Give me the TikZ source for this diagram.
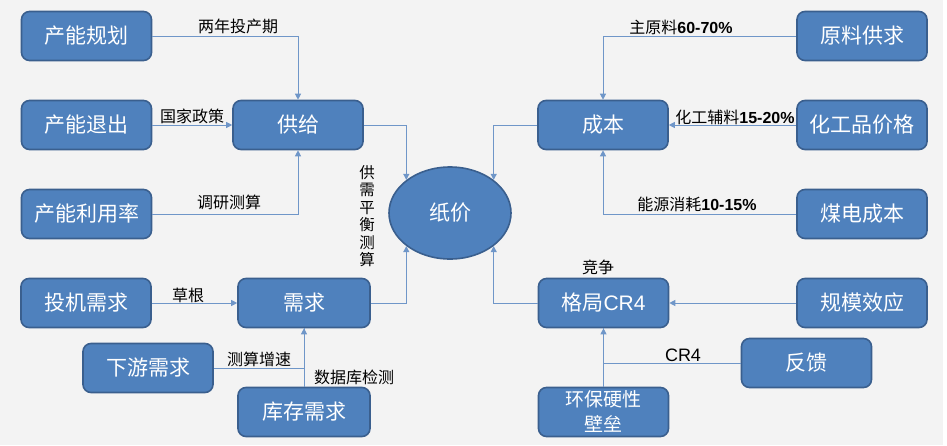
\documentclass[tikz,border=0pt]{standalone}
\usepackage{fontspec}
\setmainfont{Liberation Sans}
\newfontfamily\cjk{Noto Sans CJK SC}
\newfontfamily\latn{Liberation Sans}
\usetikzlibrary{arrows.meta,shapes.geometric}
\definecolor{boxfill}{HTML}{4F81BD}
\definecolor{boxline}{HTML}{3A5F8E}
\definecolor{linec}{HTML}{6F96C8}
\definecolor{bg}{HTML}{F3F3F3}
\begin{document}
\begin{tikzpicture}[x=1pt,y=-1pt,
 box/.style={draw=boxline, line width=1.6pt, fill=boxfill, rounded corners=8pt,
   minimum width=130pt, minimum height=49pt, inner sep=0pt, text=white,
   font=\cjk\fontsize{21}{24}\selectfont, align=center},
 conn/.style={draw=linec, line width=1pt, -{Triangle[width=6pt,length=6pt]}},
 plainline/.style={draw=linec, line width=1pt},
 lbl/.style={font=\cjk\fontsize{16}{17}\selectfont, text=black, inner sep=0pt, align=center}]
\fill[bg] (0,0) rectangle (947,445);
\fill[white] (943,0) rectangle (947,445);
\useasboundingbox (0,0) rectangle (947,445);

% boxes
\node[box] (gh) at (86.5,36) {产能规划};
\node[box] (tc) at (86.5,125) {产能退出};
\node[box] (ly) at (86.5,214) {产能利用率};
\node[box] (gj) at (298,125) {供给};
\node[box] (cb) at (603,125) {成本};
\node[box] (yl) at (862,36) {原料供求};
\node[box] (hg) at (862,125) {化工品价格};
\node[box] (md) at (862,214) {煤电成本};
\node[box] (tj) at (86,303) {投机需求};
\node[box, minimum width=132pt] (xq) at (304,303) {需求};
\node[box] (xy) at (148,368) {下游需求};
\node[box, minimum width=132pt] (kc) at (304,412) {库存需求};
\node[box] (gjcr) at (603.5,303) {格局{\latn CR4}};
\node[box] (gm) at (862,303) {规模效应};
\node[box] (fk) at (806.5,363) {反馈};
\node[box, font=\cjk\fontsize{19}{25}\selectfont] (hb) at (603.5,412) {环保硬性\\壁垒};

% central ellipse
\node[ellipse, draw=boxline, line width=1.6pt, fill=boxfill, inner sep=0pt,
  minimum width=122pt, minimum height=92pt, text=white,
  font=\cjk\fontsize{21}{24}\selectfont] (zj) at (450,213) {纸价};

% connectors
\draw[conn] (gh.east) -| (gj.north);
\draw[conn] (tc) -- (gj);
\draw[conn] (ly.east) -| (gj.south);
\draw[conn] (gj.east) -| (zj.north west);
\draw[conn] (xq.east) -| (zj.south west);
\draw[conn] (cb.west) -| (zj.north east);
\draw[conn] (gjcr.west) -| (zj.south east);
\draw[conn] (yl.west) -| (cb.north);
\draw[conn] (hg) -- (cb);
\draw[conn] (md.west) -| (cb.south);
\draw[conn] (tj) -- (xq);
\draw[plainline] (xy.east) -| (xq.south);
\draw[conn] (kc) -- (xq);
\draw[conn] (gm) -- (gjcr);
\draw[plainline] (fk.west) -| (gjcr.south);
\draw[conn] (hb) -- (gjcr);

% labels
\node[lbl] (l1) at (238,26) {两年投产期};
\node[lbl] (l2) at (192,116) {国家政策};
\node[lbl] (l3) at (229,202) {调研测算};
\node[lbl] (l4) at (188,295) {草根};
\node[lbl] (l5) at (259,359) {测算增速};
\node[lbl] (l6) at (354,377) {数据库检测};
\node[lbl, font=\cjk\fontsize{15.5}{17.5}\selectfont] (l7) at (367,216) {供\\需\\平\\衡\\测\\算};
\node[lbl] (l8) at (681,27) {主原料{\latn\bfseries\fontsize{16}{17}\selectfont 60-70\%}};
\node[lbl] (l9) at (735,117) {化工辅料{\latn\bfseries\fontsize{16}{17}\selectfont 15-20\%}};
\node[lbl] (l10) at (697,204) {能源消耗{\latn\bfseries\fontsize{16}{17}\selectfont 10-15\%}};
\node[lbl] (l11) at (598,267) {竞争};
\node[lbl, font=\latn\fontsize{18}{20}\selectfont] (l12) at (683,355) {CR4};
\end{tikzpicture}
\end{document}
